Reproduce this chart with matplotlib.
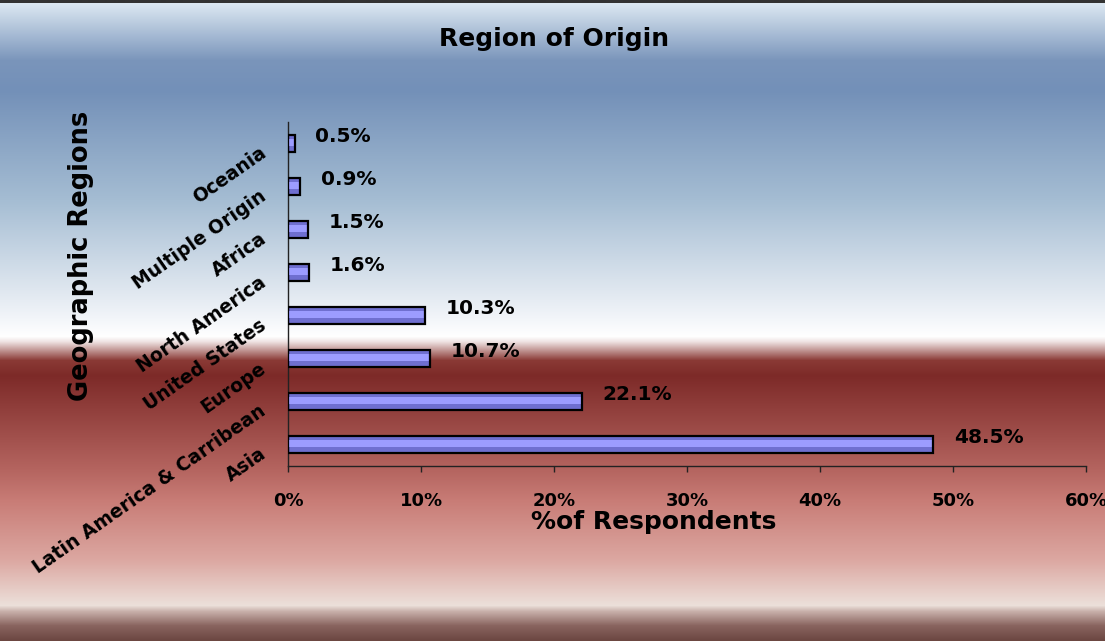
import numpy as np
import matplotlib
matplotlib.use('Agg')
import matplotlib.pyplot as plt
from matplotlib.colors import to_rgb
from matplotlib.ticker import FuncFormatter

plt.rcParams['font.family'] = ['DejaVu Sans']
plt.rcParams['font.weight'] = 'bold'

# Data (bottom to top)
regions = ['Asia', 'Latin America & Carribean', 'Europe', 'United States',
           'North America', 'Africa', 'Multiple Origin', 'Oceania']
percent = [48.5, 22.1, 10.7, 10.3, 1.6, 1.5, 0.9, 0.5]
x_ticks = [0, 10, 20, 30, 40, 50, 60]

W, H = 1105, 641
fig = plt.figure(figsize=(W / 100, H / 100), dpi=100)

# Background gradient (pixel rows from top, colour)
stops = [(0, '#333333'), (2, '#333333'), (3, '#dce8f2'), (60, '#7a95bb'),
         (90, '#7390b8'), (200, '#a5bdd3'), (300, '#e6ecf3'), (336, '#ffffff'),
         (341, '#f0e4e4'), (360, '#8a3a35'), (375, '#7d2a28'), (470, '#b56560'),
         (500, '#c87c76'), (560, '#dca8a2'), (605, '#ece0da'), (611, '#c8b0aa'),
         (625, '#8a6560'), (641, '#6a4540')]
rows = np.arange(H)
pos = [s[0] for s in stops]
cols = np.array([to_rgb(s[1]) for s in stops])
grad = np.stack([np.interp(rows, pos, cols[:, i]) for i in range(3)], axis=1)
img = np.repeat(grad[:, None, :], 2, axis=1)
bg = fig.add_axes([0, 0, 1, 1], zorder=-1)
bg.imshow(img, aspect='auto', extent=[0, 1, 0, 1], interpolation='bilinear')
bg.axis('off')

ax = fig.add_axes([288 / W, 1 - 466 / H, (1086 - 288) / W, (466 - 122) / H])
ax.set_facecolor('none')

y = np.arange(len(regions))
h = 0.38
# shaded bars: dark base, light middle band, black outline
ax.barh(y, percent, height=h, color='#6f6fd0', zorder=2)
ax.barh(y + 0.02, percent, height=h * 0.45, color='#9c9cff', zorder=3)
ax.barh(y, percent, height=h, facecolor='none', edgecolor='black', linewidth=1.6, zorder=4)

for yi, v in zip(y, percent):
    ax.annotate(f'{v}%', (v, yi), xytext=(15, 5), textcoords='offset points',
                ha='left', va='center', fontsize=14.5, fontweight='bold')

ax.set_xlim(0, 60)
ax.set_ylim(-0.5, len(regions) - 0.5)
ax.set_xticks(x_ticks)
ax.xaxis.set_major_formatter(FuncFormatter(lambda v, p: f'{v:.0f}%'))
ax.set_yticks(y)
ax.set_yticklabels(regions, rotation=35, ha='right', va='top',
                   rotation_mode='anchor', fontsize=13.5, fontweight='bold')
ax.tick_params(axis='x', direction='out', length=4.5, width=1, pad=14,
               labelsize=13, color='#222222')
ax.tick_params(axis='y', length=0, pad=21)
for lab in ax.get_xticklabels():
    lab.set_fontweight('bold')

for s in ['top', 'right']:
    ax.spines[s].set_visible(False)
for s in ['left', 'bottom']:
    ax.spines[s].set_color('#222222')
    ax.spines[s].set_linewidth(1)

fig.text(554 / W, 1 - 39 / H, 'Region of Origin', ha='center', va='center',
         fontsize=18, fontweight='bold')
fig.text(654 / W, 1 - 522 / H, '%of Respondents', ha='center', va='center',
         fontsize=18, fontweight='bold')
fig.text(81 / W, 1 - 256 / H, 'Geographic Regions', ha='center', va='center',
         rotation=90, fontsize=18.5, fontweight='bold')

fig.savefig('out.png', dpi=100)
